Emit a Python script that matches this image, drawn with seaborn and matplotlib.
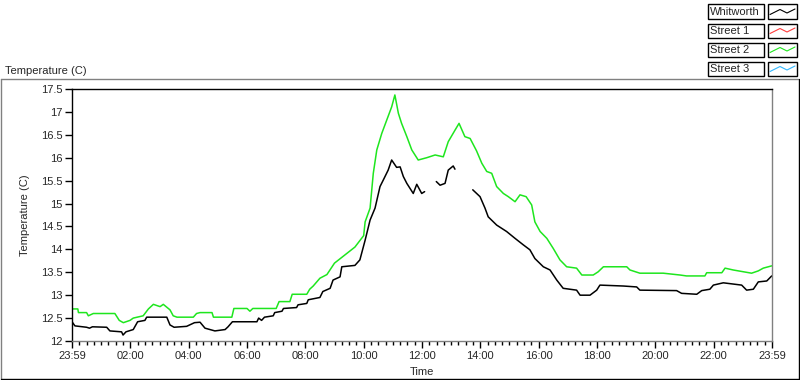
import matplotlib
matplotlib.use('Agg')
import matplotlib.pyplot as plt
from matplotlib.lines import Line2D
from matplotlib.patches import Rectangle
from matplotlib.ticker import MultipleLocator, FormatStrFormatter
import seaborn as sns
import pandas as pd
import numpy as np

# Time axis is hours after 23:59 of the previous day
street2_hours = [0.00, 0.20, 0.22, 0.50, 0.56, 0.73, 1.47, 1.62, 1.76, 1.99, 2.10, 2.44,
                 2.62, 2.79, 3.02, 3.13, 3.36, 3.47, 3.60, 4.16, 4.27, 4.39, 4.80, 4.85,
                 5.48, 5.55, 6.00, 6.10, 6.20, 7.00, 7.10, 7.47, 7.55, 8.05, 8.15, 8.27,
                 8.50, 8.74, 9.00, 9.20, 9.70, 10.00, 10.05, 10.22, 10.33, 10.45, 10.62,
                 10.79, 10.96, 11.07, 11.19, 11.30, 11.48, 11.65, 11.87, 12.16, 12.45,
                 12.73, 12.90, 13.13, 13.27, 13.47, 13.65, 13.87, 14.05, 14.22, 14.39,
                 14.56, 14.79, 14.96, 15.19, 15.36, 15.57, 15.76, 15.87, 16.05, 16.28,
                 16.50, 16.73, 16.96, 17.30, 17.48, 17.87, 18.04, 18.22, 19.02, 19.13,
                 19.47, 20.27, 20.85, 21.07, 21.70, 21.76, 22.28, 22.39, 22.67, 23.30,
                 23.53, 23.70, 23.99]
street2_temp = [12.70, 12.70, 12.62, 12.62, 12.55, 12.60, 12.60, 12.45, 12.40, 12.45, 12.50, 12.55,
                12.70, 12.80, 12.75, 12.80, 12.68, 12.55, 12.52, 12.52, 12.60, 12.62, 12.62, 12.52,
                12.52, 12.71, 12.71, 12.65, 12.71, 12.71, 12.86, 12.86, 13.02, 13.02, 13.13, 13.20,
                13.37, 13.45, 13.70, 13.80, 14.05, 14.30, 14.60, 14.90, 15.66, 16.17, 16.53,
                16.82, 17.11, 17.37, 16.97, 16.75, 16.46, 16.17, 15.95, 16.00, 16.06,
                16.02, 16.35, 16.60, 16.75, 16.46, 16.42, 16.15, 15.88, 15.70, 15.66,
                15.37, 15.22, 15.15, 15.04, 15.19, 15.15, 14.97, 14.60, 14.39, 14.24,
                14.02, 13.77, 13.62, 13.59, 13.44, 13.44, 13.51, 13.62, 13.62, 13.55,
                13.48, 13.48, 13.44, 13.42, 13.42, 13.49, 13.49, 13.59, 13.55, 13.48,
                13.53, 13.59, 13.64]

# NaN marks the two gaps in the Whitworth record
whitworth_hours = [0.00, 0.10, 0.50, 0.60, 0.70, 1.19, 1.30, 1.70, 1.75, 1.85, 2.10, 2.25,
                   2.50, 2.56, 3.25, 3.36, 3.50, 3.93, 4.20, 4.39, 4.56, 4.90, 5.25, 5.35,
                   5.50, 6.34, 6.40, 6.50, 6.60, 6.90, 6.95, 7.20, 7.25, 7.70, 7.75, 8.05,
                   8.10, 8.50, 8.60, 8.85, 8.95, 9.19, 9.25, 9.70, 9.87, 10.05, 10.22, 10.39,
                   10.56, 10.67, 10.84, 10.96, 11.13, 11.25, 11.36, 11.48, 11.70, 11.82,
                   11.99, 12.09, 12.30, 12.49, 12.62, 12.79, 12.90, 13.07, 13.13, 13.40,
                   13.74, 13.99, 14.16, 14.27, 14.56, 14.90, 15.19, 15.47, 15.70, 15.87,
                   16.16, 16.39, 16.62, 16.84, 17.30, 17.42, 17.76, 17.99, 18.10, 18.90,
                   19.36, 19.47, 20.73, 20.90, 21.42, 21.59, 21.87, 21.99, 22.33, 22.96,
                   23.13, 23.36, 23.53, 23.82, 23.99]
whitworth_temp = [12.42, 12.33, 12.30, 12.28, 12.31, 12.30, 12.22, 12.20, 12.13, 12.20, 12.25, 12.42,
                  12.45, 12.52, 12.52, 12.35, 12.30, 12.32, 12.40, 12.41, 12.28, 12.22, 12.25, 12.31,
                  12.42, 12.42, 12.50, 12.45, 12.52, 12.55, 12.62, 12.65, 12.71, 12.73, 12.79, 12.82,
                  12.90, 12.95, 13.08, 13.15, 13.33, 13.40, 13.62, 13.65, 13.77, 14.20, 14.64, 14.90,
                  15.37, 15.51, 15.73, 15.95, 15.79, 15.80, 15.59, 15.44, 15.22, 15.42,
                  15.22, 15.26, np.nan, 15.48, 15.40, 15.44, 15.73, 15.82, 15.75, np.nan,
                  15.30, 15.15, 14.90, 14.71, 14.53, 14.39, 14.24, 14.10, 13.99, 13.80,
                  13.62, 13.55, 13.33, 13.15, 13.11, 13.00, 13.00, 13.11, 13.22, 13.20,
                  13.18, 13.11, 13.10, 13.04, 13.02, 13.10, 13.13, 13.22, 13.27, 13.22,
                  13.11, 13.13, 13.29, 13.31, 13.42]

series_names = ['Whitworth', 'Street 1', 'Street 2', 'Street 3']
series_colors = ['#000000', '#ff3c3c', '#1ee61e', '#30b8ff']
x_tick_labels = ['23:59', '02:00', '04:00', '06:00', '08:00', '10:00', '12:00',
                 '14:00', '16:00', '18:00', '20:00', '22:00', '23:59']

sns.set_style('white')
plt.rcParams['font.family'] = ['Liberation Sans', 'DejaVu Sans']
plt.rcParams['font.size'] = 8

W, H = 800, 380


def fx(x):
    return x / W


def fy(y):
    return 1 - y / H


fig = plt.figure(figsize=(8, 3.8), dpi=100)
ax = fig.add_axes([fx(72), fy(341), fx(772) - fx(72), fy(89) - fy(341)])

whit = pd.DataFrame({'hour': whitworth_hours, 'temp': whitworth_temp})
whit['seg'] = whit['temp'].isna().cumsum()
whit = whit.dropna()
st2 = pd.DataFrame({'hour': street2_hours, 'temp': street2_temp})

sns.lineplot(data=st2, x='hour', y='temp', color=series_colors[2], lw=1.1, ax=ax)
sns.lineplot(data=whit, x='hour', y='temp', units='seg', estimator=None,
             color=series_colors[0], lw=1.1, ax=ax)

ax.set_xlim(0, 24)
ax.set_ylim(12, 17.5)
ax.xaxis.set_major_locator(MultipleLocator(2))
ax.xaxis.set_minor_locator(MultipleLocator(0.25))
ax.set_xticks(range(0, 25, 2))
ax.set_xticklabels(x_tick_labels)
ax.yaxis.set_major_locator(MultipleLocator(0.5))
ax.yaxis.set_major_formatter(FormatStrFormatter('%g'))
ax.tick_params(axis='both', which='major', direction='out', length=5, width=1,
               color='black', labelsize=8, pad=2, bottom=True, left=True)
ax.tick_params(axis='x', which='minor', direction='out', length=3, width=1,
               color='black', bottom=True)
ax.set_xlabel('Time', fontsize=8)
ax.set_ylabel('Temperature (C)', fontsize=8)
ax.xaxis.set_label_coords(0.5, -0.105)
ax.yaxis.set_label_coords(-0.06, 0.5)

for side, col in [('left', 'black'), ('top', 'black'), ('right', '#808080'), ('bottom', '#808080')]:
    ax.spines[side].set_visible(True)
    ax.spines[side].set_color(col)
    ax.spines[side].set_linewidth(1)

# outer sunken frame
fig.add_artist(Line2D([fx(0.5), fx(0.5)], [fy(78.5), fy(378.5)], color='#808080', lw=1,
                      transform=fig.transFigure))
fig.add_artist(Line2D([fx(0.5), fx(798)], [fy(78.5), fy(78.5)], color='#808080', lw=1,
                      transform=fig.transFigure))
fig.add_artist(Line2D([fx(798.5), fx(798.5)], [fy(78.5), fy(378.5)], color='black', lw=1,
                      transform=fig.transFigure))
fig.add_artist(Line2D([fx(0.5), fx(798.5)], [fy(378.5), fy(378.5)], color='black', lw=1,
                      transform=fig.transFigure))

fig.text(fx(5), fy(71), 'Temperature (C)', fontsize=8, va='center', ha='left')

# legend: name boxes and swatches
for i, (name, col) in enumerate(zip(series_names, series_colors)):
    top = 4.5 + 19 * i
    fig.add_artist(Rectangle((fx(707.5), fy(top + 14)), fx(56), 14 / H, fill=True,
                             facecolor='white', edgecolor='black', lw=1,
                             transform=fig.transFigure))
    fig.text(fx(710), fy(top + 7.5), name, fontsize=8, va='center', ha='left')
    fig.add_artist(Rectangle((fx(767.5), fy(top + 14)), fx(29), 14 / H, fill=True,
                             facecolor='white', edgecolor='black', lw=1,
                             transform=fig.transFigure))
    sx = [770, 780, 787, 795]
    sy = [top + 10, top + 5, top + 8.5, top + 4.5]
    fig.add_artist(Line2D([fx(v) for v in sx], [fy(v) for v in sy], color=col, lw=0.8,
                          transform=fig.transFigure))

fig.savefig('out.png', dpi=100)
